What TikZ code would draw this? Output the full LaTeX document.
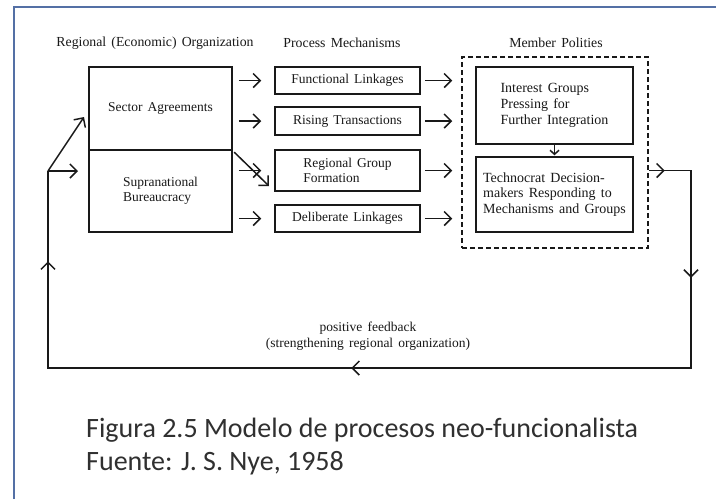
\documentclass[tikz,border=0pt]{standalone}
\usepackage{fontspec}
\setmainfont{Liberation Serif}[WordSpace=1.5]
\newfontfamily\capfont{Carlito}
\usetikzlibrary{arrows.meta,decorations.markings}
\definecolor{frameblue}{RGB}{84,112,165}
\definecolor{ink}{RGB}{25,25,25}
\tikzset{bigbarb/.tip={Straight Barb[length=7pt,width=14pt,line width=1.5pt]}}
\begin{document}
\begin{tikzpicture}[x=1pt,y=-1pt,
  box/.style={draw=ink, line width=1.5pt, inner sep=0pt, text=ink,
    font=\fontsize{13.5}{15.5}\selectfont},
  head/.style={text=ink, inner sep=0pt, font=\fontsize{13.8}{16}\selectfont},
  arr/.style={draw=ink, line width=1.5pt, -bigbarb},
  loopline/.style={draw=ink, line width=1.5pt}
]
\useasboundingbox (0,0) rectangle (716,499);
\fill[white] (0,0) rectangle (716,499);
\draw[frameblue, line width=2.5pt] (14,499) -- (14,7) -- (716,7);

% headings
\node[head] (hro) at (155,43) {Regional (Economic) Organization};
\node[head] (hpm) at (342,43) {Process Mechanisms};
\node[head] (hmp) at (556,43) {Member Polities};

% regional organization
\node[box, minimum width=143pt, minimum height=83pt] (sa) at (160.5,108.5) {Sector Agreements};
\node[box, minimum width=143pt, minimum height=82pt, align=left] (sb) at (160.5,191) {Supranational\\Bureaucracy};

% process mechanisms
\node[box, minimum width=145pt, minimum height=27pt] (pf) at (347.5,80.5) {Functional Linkages};
\node[box, minimum width=145pt, minimum height=28pt] (pr) at (347.5,121) {Rising Transactions};
\node[box, minimum width=145pt, minimum height=41pt, align=left] (pg) at (347.5,170.5) {Regional Group\\Formation};
\node[box, minimum width=145pt, minimum height=27pt] (pd) at (347.5,218.5) {Deliberate Linkages};

% member polities
\node[draw=ink, line width=1.5pt, dash pattern=on 5pt off 3pt, minimum width=186pt, minimum height=191pt, inner sep=0pt] (mp) at (555,152.5) {};
\node[box, minimum width=157pt, minimum height=77pt, align=left, font=\fontsize{14}{16}\selectfont] (ig) at (554.5,105.5) {Interest Groups\\Pressing for\\Further Integration};
\node[box, minimum width=157pt, minimum height=75pt, align=left, font=\fontsize{14}{15.5}\selectfont] (tc) at (554.5,194.5) {Technocrat Decision-\\makers Responding to\\Mechanisms and Groups};

% arrows org -> mechanisms
\draw[arr, shorten <=6pt, shorten >=13pt] (sa.east |- pf.west) -- (pf.west);
\draw[arr, shorten <=6pt, shorten >=13pt] (sa.east |- pr.west) -- (pr.west);
\draw[arr, shorten <=6pt, shorten >=13pt] (sb.east |- pg.west) -- (pg.west);
\draw[arr, shorten <=6pt, shorten >=13pt] (sb.east |- pd.west) -- (pd.west);
\coordinate (dg) at (269,186);
\draw[arr, shorten <=2pt] (sa.south east) -- (dg);

% arrows mechanisms -> member polities
\draw[arr, shorten <=4pt, shorten >=9pt] (pf.east) -- (mp.west |- pf.east);
\draw[arr, shorten <=4pt, shorten >=9pt] (pr.east) -- (mp.west |- pr.east);
\draw[arr, shorten <=4pt, shorten >=9pt] (pg.east) -- (mp.west |- pg.east);
\draw[arr, shorten <=4pt, shorten >=9pt] (pd.east) -- (mp.west |- pd.east);

% interest groups -> technocrats
\draw[draw=ink, line width=1.5pt, -{Straight Barb[length=4pt,width=9pt]}, shorten >=1pt] (ig.south) -- (tc.north);

% feedback loop
\coordinate (r1) at (691,170.5);
\coordinate (r2) at (691,368);
\coordinate (l2) at (48,368);
\coordinate (l1) at (48,171);
\draw[loopline, postaction={decorate}, decoration={markings,
   mark=at position 16pt with {\arrow{bigbarb}},
   mark=at position 149.5pt with {\arrow{bigbarb}},
   mark=at position 579.5pt with {\arrow{bigbarb}},
   mark=at position 989.5pt with {\arrow{bigbarb}}}]
  (mp.east |- pg.east) -- (r1) -- (r2) -- (l2) -- (l1);
\coordinate (h1) at (78,171);
\coordinate (d1) at (84,117);
\draw[arr] (l1) -- (h1);
\draw[arr] (l1) -- (d1);

\node[head, align=center, font=\fontsize{13.5}{16}\selectfont] (fb) at (368,336) {positive feedback\\(strengthening regional organization)};

% caption
\node[anchor=base west, inner sep=0pt, text=ink!90, font=\capfont\fontsize{28}{34}\selectfont] (c1) at (86,437) {Figura 2.5 Modelo de procesos neo-funcionalista};
\node[anchor=base west, inner sep=0pt, text=ink!90, font=\capfont\fontsize{28}{34}\selectfont] (c2) at (86,470) {Fuente: J. S. Nye, 1958};
\end{tikzpicture}
\end{document}
